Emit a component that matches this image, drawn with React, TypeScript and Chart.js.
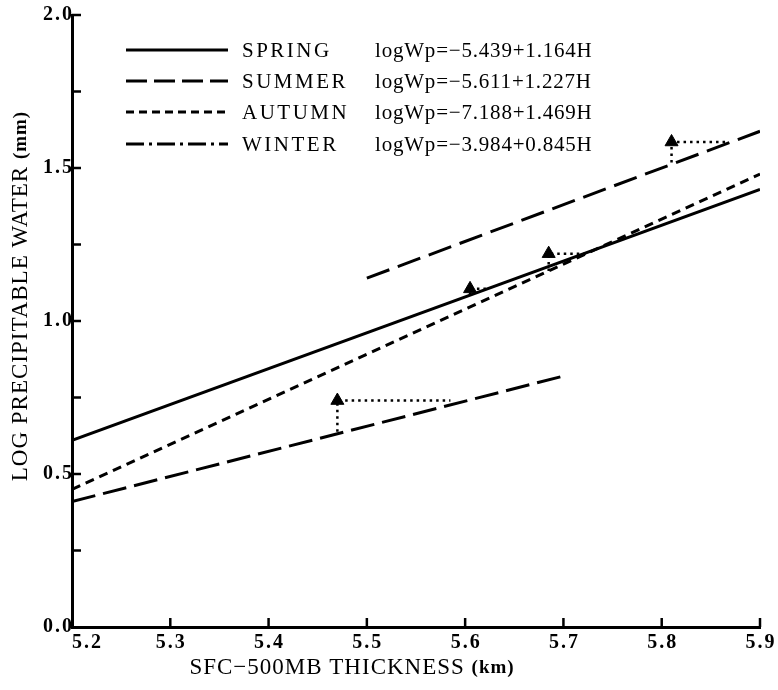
import React, { useEffect, useRef } from 'react';
import { Chart, registerables } from 'chart.js';

Chart.register(...registerables);

// ---- data ----
const seasons = ['SPRING', 'SUMMER', 'AUTUMN', 'WINTER'];
const equations = [
  'logWp=−5.439+1.164H',
  'logWp=−5.611+1.227H',
  'logWp=−7.188+1.469H',
  'logWp=−3.984+0.845H',
];
const lineStartX = [5.2, 5.5, 5.2, 5.2];
const lineEndX = [5.9, 5.9, 5.9, 5.7];
const lineStartY = [0.61, 1.14, 0.45, 0.41];
const lineEndY = [1.43, 1.62, 1.48, 0.82];

const arrowX = [5.47, 5.605, 5.685, 5.81];
const arrowY = [0.74, 1.105, 1.22, 1.585];
const arrowEndX = [5.585, 5.622, 5.724, 5.866];
const arrowBaseY = [0.638, 1.085, 1.163, 1.518];

const xTickLabels = ['5.2', '5.3', '5.4', '5.5', '5.6', '5.7', '5.8', '5.9'];
const yTickLabels = ['0.0', '0.5', '1.0', '1.5', '2.0'];

const xTitle = 'SFC−500MB THICKNESS';
const xUnit = '(km)';
const yTitle = 'LOG PRECIPITABLE WATER';
const yUnit = '(mm)';

const SERIF = '"Liberation Serif", "Times New Roman", serif';
const lineDashes: number[][] = [[], [24, 9], [9, 6], [24, 8]];
const legendDashes: number[][] = [[], [21, 7], [8, 5], [18, 5, 3, 5]];

const overlayPlugin = {
  id: 'overlay',
  afterDraw(chart: any) {
    const { ctx, chartArea } = chart;
    const xs = chart.scales.x;
    const ys = chart.scales.y;
    ctx.save();
    ctx.strokeStyle = '#000';
    ctx.fillStyle = '#000';
    ctx.lineWidth = 2.5;
    ctx.setLineDash([]);
    // inward tick marks
    ys.ticks.forEach((t: any) => {
      if (Math.abs(t.value) < 1e-9) return;
      const py = ys.getPixelForValue(t.value);
      ctx.beginPath();
      ctx.moveTo(chartArea.left, py);
      ctx.lineTo(chartArea.left + 9, py);
      ctx.stroke();
    });
    xs.ticks.forEach((t: any, i: number) => {
      if (i === 0) return;
      const px = xs.getPixelForValue(t.value);
      ctx.beginPath();
      ctx.moveTo(px, chartArea.bottom);
      ctx.lineTo(px, chartArea.bottom - 9);
      ctx.stroke();
    });
    // tick labels
    ctx.font = `bold 20px ${SERIF}`;
    (ctx as any).letterSpacing = '2px';
    ctx.textBaseline = 'middle';
    ctx.textAlign = 'right';
    ys.ticks.forEach((t: any) => {
      if (!t.label) return;
      ctx.fillText(t.label, chartArea.left + 2, ys.getPixelForValue(t.value));
    });
    xs.ticks.forEach((t: any, i: number) => {
      const px = xs.getPixelForValue(t.value);
      ctx.textAlign = i === 0 ? 'left' : 'center';
      ctx.fillText(t.label, i === 0 ? px : px + 1, chartArea.bottom + 16);
    });

    // axis titles
    const drawTitle = (main: string, unit: string) => {
      ctx.font = `23px ${SERIF}`;
      (ctx as any).letterSpacing = '1px';
      const w1 = ctx.measureText(main + ' ').width;
      ctx.font = `bold 19px ${SERIF}`;
      const w2 = ctx.measureText(unit).width;
      const start = -(w1 + w2) / 2;
      ctx.textAlign = 'left';
      ctx.font = `23px ${SERIF}`;
      ctx.fillText(main + ' ', start, 0);
      ctx.font = `bold 19px ${SERIF}`;
      ctx.fillText(unit, start + w1, 0);
    };
    ctx.save();
    ctx.translate(352, 668);
    drawTitle(xTitle, xUnit);
    ctx.restore();
    ctx.save();
    ctx.translate(21, 296);
    ctx.rotate(-Math.PI / 2);
    drawTitle(yTitle, yUnit);
    ctx.restore();

    // legend
    const rows = [50, 81, 112, 144];
    seasons.forEach((s, i) => {
      const y = rows[i];
      ctx.lineWidth = 3;
      ctx.setLineDash(legendDashes[i]);
      ctx.beginPath();
      ctx.moveTo(126, y);
      ctx.lineTo(228, y);
      ctx.stroke();
      ctx.setLineDash([]);
      ctx.textAlign = 'left';
      ctx.font = `21px ${SERIF}`;
      (ctx as any).letterSpacing = '2.5px';
      ctx.fillText(s, 242, y + 1);
      (ctx as any).letterSpacing = '0.8px';
      ctx.fillText(equations[i], 375, y + 1);
    });
    ctx.restore();
  },
};

export default function App() {
  const ref = useRef<HTMLCanvasElement | null>(null);
  useEffect(() => {
    document.body.style.margin = '0';
    if (!ref.current) return;
    const datasets: any[] = seasons.map((s, i) => ({
      label: s,
      data: [
        { x: lineStartX[i], y: lineStartY[i] },
        { x: lineEndX[i], y: lineEndY[i] },
      ],
      showLine: true,
      borderColor: '#000',
      borderWidth: 3,
      borderDash: lineDashes[i],
      pointRadius: 0,
      fill: false,
    }));
    arrowX.forEach((ax, i) => {
      datasets.push({
        label: 'arrow' + i,
        data: [
          { x: ax, y: arrowBaseY[i] },
          { x: ax, y: arrowY[i] },
          { x: arrowEndX[i], y: arrowY[i] },
        ],
        showLine: true,
        borderColor: '#000',
        borderWidth: 2.5,
        borderDash: [2.5, 4],
        pointRadius: 0,
        fill: false,
      });
    });
    datasets.push({
      label: 'markers',
      data: arrowX.map((ax, i) => ({ x: ax, y: arrowY[i] })),
      showLine: false,
      pointStyle: 'triangle',
      pointRadius: 7.5,
      backgroundColor: '#000',
      borderColor: '#000',
      borderWidth: 1,
    });

    const chart = new Chart(ref.current, {
      type: 'scatter',
      data: { datasets },
      plugins: [overlayPlugin],
      options: {
        responsive: false,
        animation: false,
        devicePixelRatio: 1,
        layout: { padding: { top: 15, right: 18, bottom: 0, left: 0 } },
        plugins: { legend: { display: false }, tooltip: { enabled: false } },
        scales: {
          x: {
            type: 'linear',
            min: 5.2,
            max: 5.9,
            ticks: {
              display: false,
              stepSize: 0.1,
              callback: (_v: any, i: number) => xTickLabels[i] ?? '',
            },
            grid: { display: false, drawTicks: false, tickLength: 0 },
            border: { display: true, color: '#000', width: 3 },
            afterFit: (s: any) => {
              s.height = 63;
            },
          },
          y: {
            type: 'linear',
            min: 0,
            max: 2,
            ticks: {
              display: false,
              stepSize: 0.25,
              callback: (_v: any, i: number) => (i % 2 === 0 ? yTickLabels[i / 2] ?? '' : ''),
            },
            grid: { display: false, drawTicks: false, tickLength: 0 },
            border: { display: true, color: '#000', width: 3 },
            afterFit: (s: any) => {
              s.width = 72;
            },
          },
        },
      } as any,
    });
    return () => chart.destroy();
  }, []);
  return (
    <div style={{ width: 778, height: 690, background: '#fff' }}>
      <canvas ref={ref} width={778} height={690} style={{ display: 'block', width: 778, height: 690 }} />
    </div>
  );
}
